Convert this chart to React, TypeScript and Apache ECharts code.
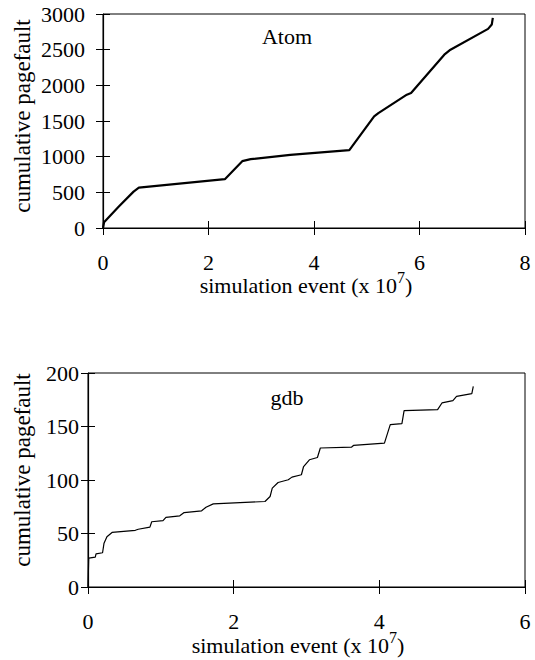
import React, { useEffect, useRef } from "react";
import * as echarts from "echarts";

const atomX = [0, 0.02, 0.3, 0.58, 0.68, 2.31, 2.64, 2.8, 3.55, 4.67, 5.14, 5.22, 5.76, 5.84, 6.47, 6.57, 7.3, 7.37, 7.39];
const atomY = [0, 80, 300, 510, 566, 684, 937, 965, 1025, 1091, 1564, 1611, 1869, 1893, 2430, 2491, 2791, 2852, 2946];

const gdbX = [0, 0.01, 0.1, 0.11, 0.2, 0.22, 0.26, 0.33, 0.65, 0.69, 0.85, 0.875, 1.03, 1.07, 1.26, 1.32, 1.56, 1.62, 1.72, 2.43, 2.5, 2.53, 2.61, 2.75, 2.8, 2.93, 2.96, 3.04, 3.15, 3.19, 3.62, 3.645, 4.07, 4.15, 4.31, 4.34, 4.8, 4.86, 5.01, 5.06, 5.27, 5.29];
const gdbY = [0, 27, 28, 31, 32, 41, 47, 51, 53, 54, 56, 61, 62, 65, 66.5, 69.6, 71.2, 74.6, 77.7, 79.9, 84.6, 92.4, 97.7, 100.2, 102.7, 104.9, 112.6, 118.9, 121, 129.9, 130.8, 132.3, 134.5, 151.7, 152.6, 164.8, 165.7, 172, 174.2, 178.2, 180.7, 187.5];

const titles = ["Atom", "gdb"];
const yName = "cumulative pagefault";
const xName = "simulation event (x 10{sup|7})";

const FONT = "'Liberation Serif', 'DejaVu Serif', serif";
const FS = 22;
const FSN = 23;

export default function App() {
  const ref = useRef<HTMLDivElement>(null);
  useEffect(() => {
    const chart = echarts.init(ref.current!, null, { renderer: "svg" });
    const txt = { color: "#000", fontFamily: FONT, fontSize: FS };
    const mkX = (grid: number, max: number, inside: boolean) => ({
      type: "value",
      gridIndex: grid,
      position: "bottom",
      min: 0,
      max,
      interval: 2,
      axisLine: { show: !inside, onZero: false, lineStyle: { color: "#000", width: 1.2 } },
      axisTick: { show: true, inside, length: 7, lineStyle: { color: "#000", width: 1 } },
      axisLabel: { show: !inside, margin: 23, formatter: (v: number) => String(v), ...txt },
      splitLine: { show: false },
    });
    const mkY = (grid: number, max: number, interval: number, inside: boolean, margin: number) => ({
      type: "value",
      gridIndex: grid,
      position: "left",
      min: 0,
      max,
      interval,
      axisLine: { show: !inside, onZero: false, lineStyle: { color: "#000", width: 1.2 } },
      axisTick: { show: true, inside, length: 7, lineStyle: { color: "#000", width: 1 } },
      axisLabel: { show: !inside, margin, formatter: (v: number) => String(v), ...txt },
      splitLine: { show: false },
    });
    const rich = { sup: { fontFamily: FONT, fontSize: 16, color: "#000", padding: [0, 0, 15, 0] } };
    chart.setOption({
      animation: false,
      backgroundColor: "#fff",
      textStyle: { fontFamily: FONT },
      grid: [
        { left: 103, top: 14, width: 422, height: 214, show: true, borderColor: "#000", borderWidth: 1 },
        { left: 88, top: 373, width: 437, height: 214, show: true, borderColor: "#000", borderWidth: 1 },
      ],
      xAxis: [mkX(0, 8, false), mkX(0, 8, true), mkX(1, 6, false), mkX(1, 6, true)],
      yAxis: [
        mkY(0, 3000, 500, false, 18),
        mkY(0, 3000, 500, true, 18),
        mkY(1, 200, 50, false, 9),
        mkY(1, 200, 50, true, 9),
      ],
      series: [
        {
          type: "line",
          xAxisIndex: 0,
          yAxisIndex: 0,
          data: atomX.map((x, i) => [x, atomY[i]]),
          showSymbol: false,
          lineStyle: { color: "#000", width: 2.2 },
        },
        {
          type: "line",
          xAxisIndex: 2,
          yAxisIndex: 2,
          data: gdbX.map((x, i) => [x, gdbY[i]]),
          showSymbol: false,
          lineStyle: { color: "#000", width: 1.2 },
        },
      ],
      graphic: [
        { type: "text", x: 287, y: 36, style: { text: titles[0], font: `${FS}px ${FONT}`, fill: "#000", textAlign: "center", textVerticalAlign: "middle" } },
        { type: "text", x: 287, y: 397, style: { text: titles[1], font: `${FS}px ${FONT}`, fill: "#000", textAlign: "center", textVerticalAlign: "middle" } },
        { type: "text", x: 22, y: 116, rotation: Math.PI / 2, style: { text: yName, font: `${FSN}px ${FONT}`, fill: "#000", textAlign: "center", textVerticalAlign: "middle" } },
        { type: "text", x: 22, y: 470, rotation: Math.PI / 2, style: { text: yName, font: `${FSN}px ${FONT}`, fill: "#000", textAlign: "center", textVerticalAlign: "middle" } },
        { type: "text", x: 306, y: 285, style: { text: xName, rich, font: `${FS}px ${FONT}`, fill: "#000", textAlign: "center", textVerticalAlign: "middle" } },
        { type: "text", x: 298, y: 645, style: { text: xName, rich, font: `${FS}px ${FONT}`, fill: "#000", textAlign: "center", textVerticalAlign: "middle" } },
      ],
    });
    return () => chart.dispose();
  }, []);
  return <div ref={ref} style={{ position: "fixed", left: 0, top: 0, width: 535, height: 660 }} />;
}
